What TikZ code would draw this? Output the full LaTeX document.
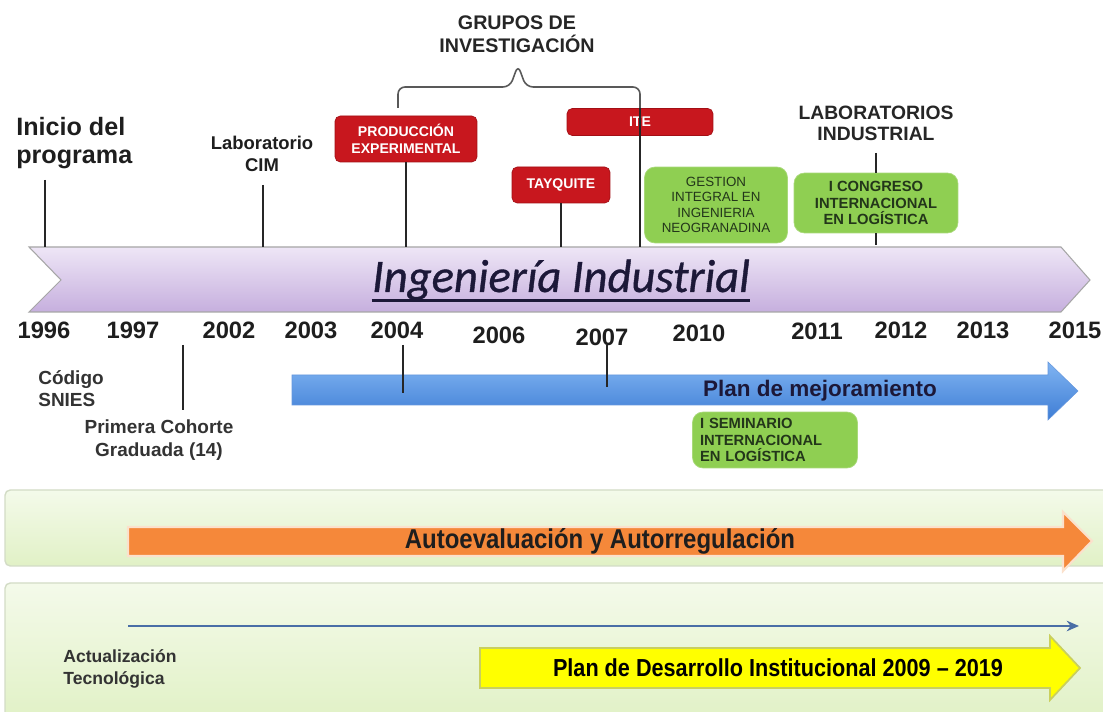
\documentclass[tikz,border=0pt]{standalone}
\usepackage{fontspec}
\setmainfont{Liberation Sans}
\newfontfamily\calibri[FakeBold=0.8]{Carlito}
\newfontfamily\narrowsans[FakeStretch=0.88]{Liberation Sans}
\usetikzlibrary{arrows.meta}
\definecolor{txt}{HTML}{1E1E1E}
\definecolor{boxred}{HTML}{C8171E}
\definecolor{boxredd}{HTML}{A30F15}
\definecolor{boxgreen}{HTML}{8FCF52}
\definecolor{boxgreend}{HTML}{A9D97A}
\definecolor{greentxt}{HTML}{23361A}
\definecolor{purtop}{HTML}{EEE6F6}
\definecolor{purbot}{HTML}{C6AFDE}
\definecolor{bluetop}{HTML}{80B4F2}
\definecolor{bluebot}{HTML}{3E7DD5}
\definecolor{bandtop}{HTML}{F4FAEA}
\definecolor{bandbot}{HTML}{E1F1C6}
\definecolor{bandline}{HTML}{D3DCC6}
\definecolor{orangefill}{HTML}{F5883A}
\definecolor{orangeline}{HTML}{FBE1CC}
\definecolor{yellowfill}{HTML}{FFFF00}
\definecolor{yellowline}{HTML}{C9CF5E}
\definecolor{thinblue}{HTML}{4A6EA6}
\definecolor{navy}{HTML}{1C1838}
\tikzset{
  lbl/.style={text=txt, inner sep=0pt, align=center},
  yr/.style={font=\fontsize{13.5}{16}\selectfont\bfseries, text=txt, inner sep=0pt},
  redbox/.style={fill=boxred, draw=boxredd, rounded corners=3pt, text=white,
    font=\fontsize{8}{9.8}\selectfont\bfseries, align=center, inner sep=0pt},
  greenbox/.style={fill=boxgreen, draw=boxgreend, rounded corners=6pt, text=greentxt,
    align=center, inner sep=0pt},
  conn/.style={line width=1pt, draw=black!85},
  band/.style={top color=bandtop, bottom color=bandbot, draw=bandline, line width=0.8pt, rounded corners=3pt},
}
\begin{document}
\begin{tikzpicture}[x=0.02cm,y=-0.02cm]
\useasboundingbox (0,0) rectangle (1103,712);
\clip (0,0) rectangle (1103,712);
\fill[white] (0,0) rectangle (1103,712);

% ---------- bottom bands ----------
\draw[band] (5,490) rectangle (1115,566);
\draw[band] (5,583) rectangle (1115,720);

% ---------- purple main arrow ----------
\draw[top color=purtop, bottom color=purbot, draw=black!35, line width=0.6pt]
  (29,247) -- (1061,247) -- (1090,280) -- (1061,312) -- (29,312) -- (61,280) -- cycle;
\node[font=\calibri\itshape\fontsize{26.5}{30}\selectfont, text=navy, inner sep=0pt, anchor=base]
  (title) at (561,292) {Ingeniería Industrial};
\draw[navy, line width=1.8pt] ([yshift=-5pt]title.base west) -- ([yshift=-5pt]title.base east);

% ---------- blue arrow ----------
\draw[top color=bluetop, bottom color=bluebot, draw=bluebot!80, line width=0.3pt]
  (292,375) -- (1048,375) -- (1048,362) -- (1078,391) -- (1048,420) -- (1048,405) -- (292,405) -- cycle;
\node[lbl, font=\fontsize{12.8}{15}\selectfont\bfseries, text=navy] (plan) at (820,391) {Plan de mejoramiento};

% ---------- orange arrow ----------
\draw[fill=orangefill, draw=orangeline, line width=1.2pt]
  (128,527) -- (1063,527) -- (1063,512) -- (1092,541) -- (1063,571) -- (1063,556) -- (128,556) -- cycle;
\node[lbl, font=\narrowsans\fontsize{15.5}{18}\selectfont\bfseries] (auto) at (600,541) {Autoevaluación y Autorregulación};

% ---------- thin blue arrow ----------
\coordinate (tbs) at (128,626);
\coordinate (tbe) at (1079,626);
\draw[thinblue, line width=1.3pt, -{Stealth[length=7pt,width=6pt]}] (tbs) -- (tbe);

% ---------- yellow arrow ----------
\draw[fill=yellowfill, draw=yellowline, line width=1pt]
  (480,648) -- (1050,648) -- (1050,636) -- (1080,668) -- (1050,700) -- (1050,688) -- (480,688) -- cycle;
\node[lbl, font=\narrowsans\fontsize{14}{17}\selectfont\bfseries, text=black] (pdi) at (778,668) {Plan de Desarrollo Institucional 2009 – 2019};

\node[lbl, align=left, anchor=west, font=\fontsize{10}{12.8}\selectfont\bfseries, text=black!80] (actu) at (63,669) {Actualización\\Tecnológica};

% ---------- years ----------
\node[yr] (y1996) at (44,330) {1996};
\node[yr] (y1997) at (133,330) {1997};
\node[yr] (y2002) at (229,330) {2002};
\node[yr] (y2003) at (311,330) {2003};
\node[yr] (y2004) at (397,330) {2004};
\node[yr] (y2006) at (499,335) {2006};
\node[yr] (y2007) at (602,337) {2007};
\node[yr] (y2010) at (699,333) {2010};
\node[yr] (y2011) at (817,331) {2011};
\node[yr] (y2012) at (901,330) {2012};
\node[yr] (y2013) at (983,330) {2013};
\node[yr] (y2015) at (1075,330) {2015};

% ---------- top labels ----------
\node[lbl, align=left, anchor=west, font=\fontsize{14.3}{16.4}\selectfont\bfseries] (inicio) at (16,143) {Inicio del\\programa};
\node[lbl, font=\fontsize{10.5}{12.8}\selectfont\bfseries] (labcim) at (262,154) {Laboratorio\\CIM};
\node[lbl, font=\fontsize{11.2}{13}\selectfont\bfseries, text=black!85] (grupos) at (517,34) {GRUPOS DE\\INVESTIGACIÓN};
\node[lbl, font=\fontsize{11}{12}\selectfont\bfseries, text=black!85] (labind) at (876,123) {LABORATORIOS\\INDUSTRIAL};

% ---------- boxes ----------
\node[redbox, minimum width=2.84cm, minimum height=0.92cm] (prod) at (406,139) {PRODUCCIÓN\\EXPERIMENTAL};
\node[redbox, minimum width=1.96cm, minimum height=0.72cm] (tay) at (561,185) {TAYQUITE};
\node[redbox, minimum width=2.92cm, minimum height=0.54cm] (ite) at (640,122) {ITE};
\node[greenbox, minimum width=2.86cm, minimum height=1.52cm, font=\fontsize{7.6}{8.8}\selectfont] (gest) at (716,205)
  {GESTION\\INTEGRAL EN\\INGENIERIA\\NEOGRANADINA};
\node[greenbox, minimum width=3.28cm, minimum height=1.2cm, font=\fontsize{8.4}{9.2}\selectfont\bfseries] (cong) at (876,203)
  {I CONGRESO\\INTERNACIONAL\\EN LOGÍSTICA};
\node[greenbox, minimum width=3.3cm, minimum height=1.12cm, font=\fontsize{8.4}{9.4}\selectfont\bfseries, align=left,
  text width=3.0cm] (semi) at (775,440)
  {I SEMINARIO\\INTERNACIONAL\\EN LOGÍSTICA};

% ---------- bottom-left labels ----------
\node[lbl, align=left, anchor=west, font=\fontsize{10.8}{12.5}\selectfont\bfseries, text=black!80] (snies) at (38,389) {Código\\SNIES};
\node[lbl, font=\fontsize{10.8}{13.2}\selectfont\bfseries, text=black!80] (cohorte) at (159,440) {Primera Cohorte\\Graduada (14)};

% ---------- connector end points ----------
\coordinate (atop) at (0,247);
\coordinate (inicioT) at (45,180);
\coordinate (inicioB) at (45,247);
\coordinate (cimT) at (263,185);
\coordinate (cimB) at (263,247);
\coordinate (braceL) at (398,108);
\coordinate (braceR) at (640,108);
\coordinate (braceP) at (518,65);
\coordinate (iteB) at (640,247);
\coordinate (labT) at (876,153);
\coordinate (congB) at (876,245);
\coordinate (cohT) at (183,345);
\coordinate (cohB) at (183,410);
\coordinate (a04T) at (403,345);
\coordinate (a04B) at (403,393);
\coordinate (a07T) at (607,345);
\coordinate (a07B) at (607,387);

% ---------- connectors ----------
\draw[conn] (inicioT) -- (inicioB);
\draw[conn] (cimT) -- (cimB);
\draw[conn] (prod.south) -- (prod.south |- atop);
\draw[conn] (tay.south) -- (tay.south |- atop);
\draw[conn] (braceR) -- (iteB);
\draw[conn] (labT) -- (labT |- cong.north);
\draw[conn] (cong.south -| congB) -- (congB);
\draw[conn] (cohT) -- (cohB);
\draw[conn] (a04T) -- (a04B);
\draw[conn] (a07T) -- (a07B);
% brace
\draw[line width=0.9pt, black!65, rounded corners=4pt]
  (braceL) -- (398,87) -- (510,87) -- (braceP) -- (526,87) -- (640,87) -- (braceR);
\end{tikzpicture}
\end{document}
